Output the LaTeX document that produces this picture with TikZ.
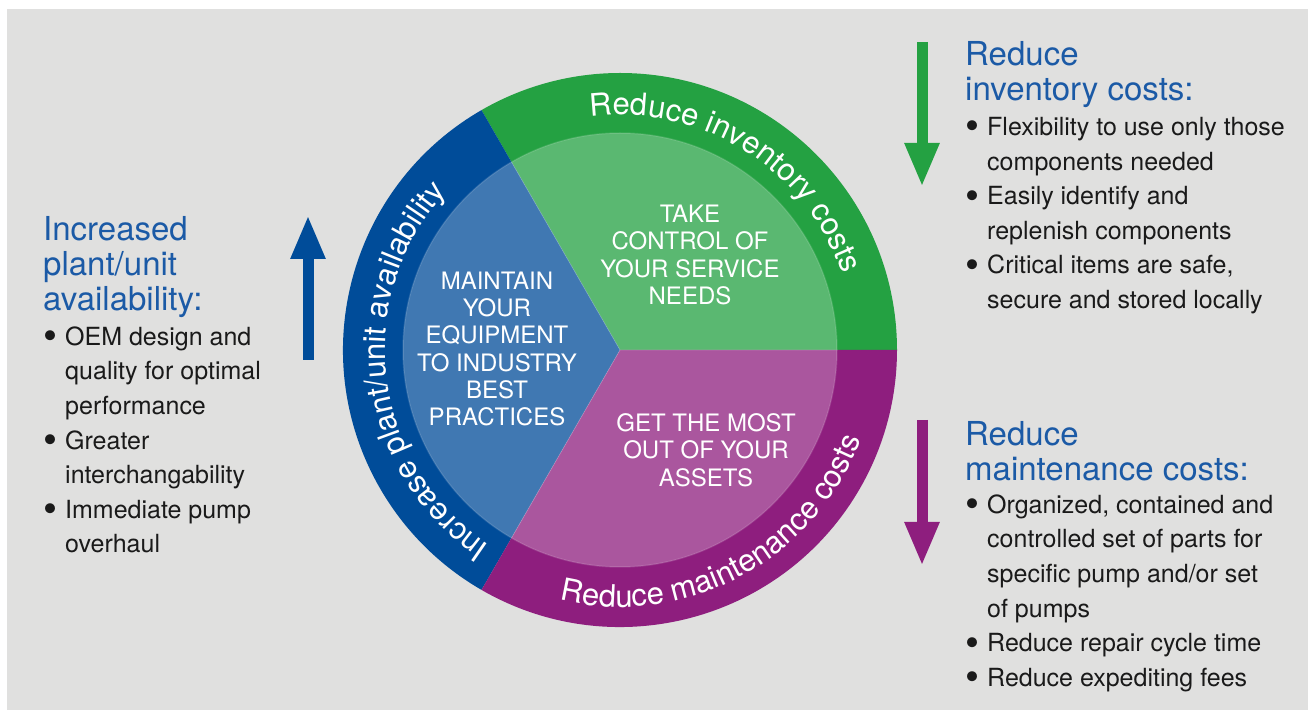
\documentclass[tikz,border=0pt]{standalone}
\usepackage{fontspec}
\usepackage{graphicx}
\setmainfont{TeX Gyre Heros}
\usetikzlibrary{arrows.meta,decorations.text}
\definecolor{bggray}{HTML}{E0E0DF}
\definecolor{ringgreen}{HTML}{24A142}
\definecolor{ringblue}{HTML}{004C99}
\definecolor{ringpurple}{HTML}{8E1E7E}
\definecolor{headblue}{HTML}{1B5AA6}
\definecolor{bodyblack}{HTML}{1A1A1A}
\newcommand{\ringfont}{\fontsize{31}{31}\selectfont}
\newcommand{\itm}{\makebox[22pt][l]{\raisebox{-4.5pt}{\scalebox{1.6}{\textbullet}}}}
\newcommand{\cnt}{\hspace*{22pt}}

\begin{document}
\begin{tikzpicture}[x=1pt,y=1pt,line join=round,
  head/.style={anchor=north west,inner sep=0pt,align=left,text=headblue,font=\fontsize{33}{35}\selectfont},
  list/.style={anchor=north west,inner sep=0pt,align=left,text=bodyblack,font=\fontsize{25}{34.6}\selectfont},
  core/.style={align=center,inner sep=0pt,text=white,font=\fontsize{24}{27.3}\selectfont},
  bigarrow/.style={line width=11pt,line cap=butt,-{Triangle[width=32pt,length=44pt]}},
  ringtext/.style={decorate,decoration={text along path,text align=center,text color=white}}]
  \useasboundingbox (0,0) rectangle (1310,710);
  \fill[bggray] (7,0) rectangle (1308,701);

  \coordinate (c) at (620,360);
  \fill[ringgreen] (c) -- ++(0:277) arc[start angle=0,end angle=120,radius=277] -- cycle;
  \fill[ringblue] (c) -- ++(120:277) arc[start angle=120,end angle=240,radius=277] -- cycle;
  \fill[ringpurple] (c) -- ++(240:277) arc[start angle=240,end angle=360,radius=277] -- cycle;
  \fill[white,opacity=0.25] (c) circle[radius=217];
  \draw[white,opacity=0.12,line width=1.5pt] (c) circle[radius=217];
  \draw[white,opacity=0.18,line width=0.8pt] (c) -- ++(0:217) (c) -- ++(120:217) (c) -- ++(240:217);

  \path[ringtext,decoration={text={|\ringfont|Reduce inventory costs}}]
    ([shift={(116:235)}]c) arc[start angle=116,end angle=0,radius=235];
  \path[ringtext,decoration={text={|\ringfont|Increase plant/unit availability}}]
    ([shift={(240:235)}]c) arc[start angle=240,end angle=134,radius=235];
  \path[ringtext,decoration={text={|\ringfont|Reduce maintenance costs}}]
    ([shift={(250:257)}]c) arc[start angle=250,end angle=346,radius=257];

  \node[core] (service) at (690,455) {TAKE\\CONTROL OF\\YOUR SERVICE\\NEEDS};
  \node[core] (equipment) at (497,361) {MAINTAIN\\YOUR\\EQUIPMENT\\TO INDUSTRY\\BEST\\PRACTICES};
  \node[core] (assets) at (706,260) {GET THE MOST\\OUT OF YOUR\\ASSETS};

  \coordinate (availtail) at (308,350);
  \coordinate (availtip) at (308,495);
  \coordinate (invtail) at (922,668);
  \coordinate (invtip) at (922,523);
  \coordinate (maintail) at (922,290);
  \coordinate (maintip) at (922,144);
  \draw[bigarrow,ringblue] (availtail) -- (availtip);
  \draw[bigarrow,ringgreen] (invtail) -- (invtip);
  \draw[bigarrow,ringpurple] (maintail) -- (maintip);

  \node[head] (availhead) at (43,494) {Increased\\plant/unit\\availability:};
  \node[list] (availlist) at (43,383.5) {\itm OEM design and\\\cnt quality for optimal\\\cnt performance\\\itm Greater\\\cnt interchangability\\\itm Immediate pump\\\cnt overhaul};

  \node[head] (invhead) at (965,669) {Reduce\\inventory costs:};
  \node[list] (invlist) at (965,593) {\itm Flexibility to use only those\\\cnt components needed\\\itm Easily identify and\\\cnt replenish components\\\itm Critical items are safe,\\\cnt secure and stored locally};

  \node[head] (mainhead) at (965,289) {Reduce\\maintenance costs:};
  \node[list] (mainlist) at (965,215.5) {\itm Organized, contained and\\\cnt controlled set of parts for\\\cnt specific pump and/or set\\\cnt of pumps\\\itm Reduce repair cycle time\\\itm Reduce expediting fees};
\end{tikzpicture}
\end{document}
